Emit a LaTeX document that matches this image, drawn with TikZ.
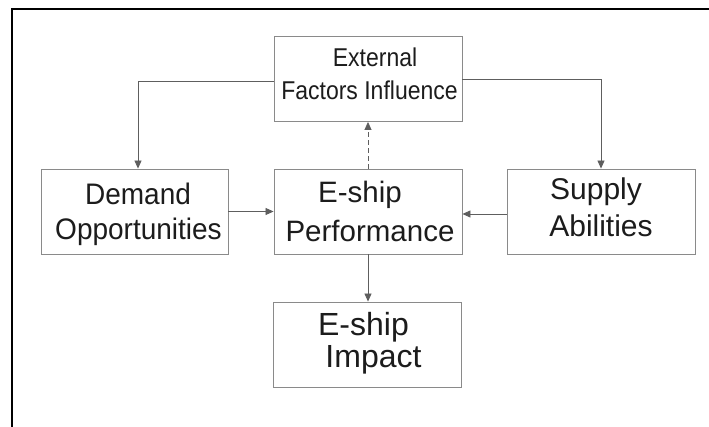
\documentclass[tikz,border=0pt]{standalone}
\usepackage{fontspec}
\usepackage{graphicx}
\setmainfont{Liberation Sans}
\usetikzlibrary{arrows.meta}
\definecolor{boxgray}{HTML}{8A8A8A}
\definecolor{linegray}{HTML}{5E5E5E}
\definecolor{txtcol}{HTML}{1C1C1C}
\begin{document}
\begin{tikzpicture}[x=1pt,y=-1pt,
  box/.style={draw=boxgray, line width=0.9pt, minimum width=188pt, minimum height=85pt, inner sep=0pt},
  txt/.style={anchor=base, inner sep=0pt, text=txtcol},
  conn/.style={draw=linegray, line width=0.8pt, -{Triangle[length=8pt,width=7pt]}},
  frame/.style={line width=2pt, black}]
\useasboundingbox (0,0) rectangle (709,427);
\fill[white] (0,0) rectangle (709,427);
\draw[frame] (12,428) -- (12,9) -- (710,9);

\node[box] (ext) at (368,79) {};
\node[box, minimum width=187pt] (dem) at (134.5,211.5) {};
\node[box] (perf) at (368,211.5) {};
\node[box] (sup) at (601,211.5) {};
\node[box] (imp) at (367,344.5) {};

\node[txt, font=\fontsize{23}{23}\selectfont] (ext1) at (375,67) {\scalebox{1}[1.12]{External}};
\node[txt, font=\fontsize{23}{23}\selectfont] (ext2) at (369.5,100) {\scalebox{1}[1.12]{Factors Influence}};
\node[txt, font=\fontsize{28}{28}\selectfont] (dem1) at (138,205) {\scalebox{1}[1.06]{Demand}};
\node[txt, font=\fontsize{28}{28}\selectfont] (dem2) at (138.5,240) {\scalebox{1}[1.06]{Opportunities}};
\node[txt, font=\fontsize{29.5}{29.5}\selectfont] (perf1) at (360,203) {E-ship};
\node[txt, font=\fontsize{29.5}{29.5}\selectfont] (perf2) at (370,242) {Performance};
\node[txt, font=\fontsize{30}{30}\selectfont] (sup1) at (596,200) {Supply};
\node[txt, font=\fontsize{30}{30}\selectfont] (sup2) at (601,237) {Abilities};
\node[txt, font=\fontsize{32}{32}\selectfont] (imp1) at (363.5,335) {E-ship};
\node[txt, font=\fontsize{32}{32}\selectfont] (imp2) at (373.5,367) {Impact};

\draw[conn] ([yshift=-2pt]ext.west) -| ([xshift=3.5pt]dem.north);
\draw[conn] (ext.east) -| (sup.north);
\draw[conn, dashed, dash pattern=on 5pt off 3pt] (perf.north) -- (ext.south);
\draw[conn] (dem.east) -- (perf.west);
\draw[conn] ([yshift=-2.5pt]sup.west) -- ([yshift=-2.5pt]perf.east);
\draw[conn] (perf.south) -- (perf.south |- imp.north);
\end{tikzpicture}
\end{document}
